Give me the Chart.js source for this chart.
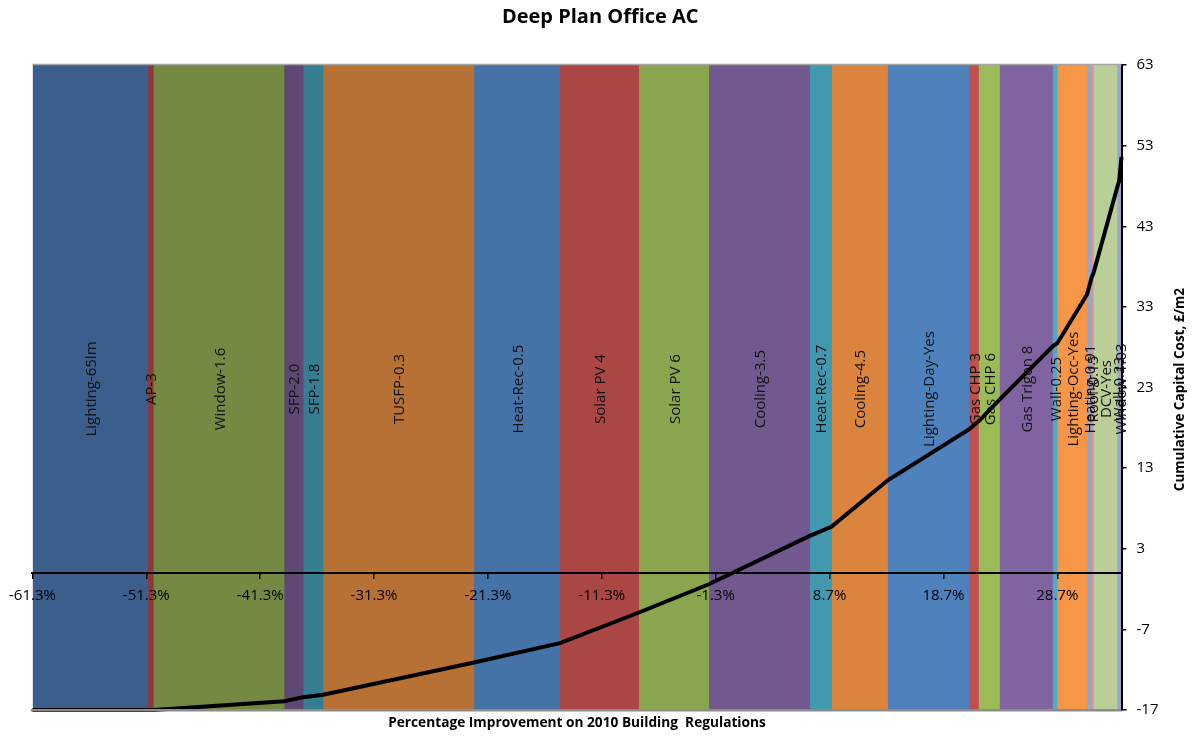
<!DOCTYPE html>
<html>
<head>
<meta charset="utf-8">
<title>Deep Plan Office AC</title>
<script src="https://cdn.jsdelivr.net/npm/chart.js@4/dist/chart.umd.min.js"></script>
<style>
  html, body { margin: 0; padding: 0; background: #fff; }
  #wrap { width: 1194px; height: 738px; position: relative; }
</style>
</head>
<body>
<div id="wrap"><canvas id="c"></canvas></div>
<script>
// Energy-saving measures, in the order they are applied
const measures = [
  'Lighting-65lm', 'AP-3', 'Window-1.6', 'SFP-2.0', 'SFP-1.8', 'TUSFP-0.3',
  'Heat-Rec-0.5', 'Solar PV 4', 'Solar PV 6', 'Cooling-3.5', 'Heat-Rec-0.7',
  'Cooling-4.5', 'Lighting-Day-Yes', 'Gas CHP 3', 'Gas CHP 6', 'Gas Trigen 8',
  'Wall-0.25', 'Lighting-Occ-Yes', 'Heating-0.91', 'Roof-0.15', 'DCV-Yes',
  'Wall-0.23', 'Window-1.03'
];

// Improvement each measure adds, percentage points
const improvement = [
  10.15, 0.47, 11.49, 1.67, 1.75, 13.25,
  7.55, 6.93, 6.14, 8.86, 1.93,
  4.92, 7.13, 0.85, 1.84, 4.66,
  0.41, 2.60, 0.43, 0.15, 2.08,
  0.18, 0.20
];

// Cumulative capital cost once each measure is added, £/m2
const cumulativeCost = [
  -17.0, -17.0, -15.9, -15.4, -15.1, -11.1,
  -8.7, -4.9, -1.4, 4.6, 5.75,
  11.5, 17.8, 18.8, 21.5, 28.1,
  28.5, 34.5, 36.7, 37.2, 47.8,
  48.7, 51.6
];

// Starting point: baseline improvement and cost
const startImprovement = -61.3;
const startCost = -17.0;

// Axis ticks
const xTicks = [-61.3, -51.3, -41.3, -31.3, -21.3, -11.3, -1.3, 8.7, 18.7, 28.7];
const yTicks = [-17, -7, 3, 13, 23, 33, 43, 53, 63];

// Band fill colours, one per measure
const bandColours = [
  '#3b5e8c', '#8c3a38', '#748a42', '#5f4876', '#367f93', '#b87134',
  '#4573a7', '#aa4644', '#89a64e', '#71588f', '#4298af',
  '#db843d', '#4f81bd', '#c0504d', '#9bbb59', '#8064a2',
  '#4bacc6', '#f79646', '#95a7ce', '#d99694', '#bacf98',
  '#94aad2', '#ab9ec4'
];

const FONT = "'Open Sans', 'DejaVu Sans', sans-serif";
const yMin = yTicks[0];
const yMax = yTicks[yTicks.length - 1];

// Band edges along the improvement axis
const edges = [startImprovement];
improvement.forEach(w => edges.push(edges[edges.length - 1] + w));
const last = edges.length - 1;

// Each band is filled from its own start edge; it runs on under the next band
// (which is drawn on top) so that neighbouring fills meet without a seam.
const bandDatasets = measures.map((m, i) => ({
  type: 'line',
  label: m,
  data: [{ x: edges[i], y: yMax }, { x: edges[Math.min(i + 2, last)], y: yMax }],
  fill: 'start',
  backgroundColor: bandColours[i],
  borderColor: 'rgba(0,0,0,0)',
  borderWidth: 0,
  pointRadius: 0,
  order: 1000 - i
}));

const costLine = {
  type: 'line',
  label: 'Cumulative capital cost',
  data: [{ x: startImprovement, y: startCost }].concat(
    cumulativeCost.map((c, i) => ({ x: edges[i + 1], y: c }))
  ),
  borderColor: '#000',
  borderWidth: 4,
  pointRadius: 0,
  fill: false,
  tension: 0,
  clip: false,
  order: 0
};

// Vertical measure names in the middle of each band
const bandLabels = {
  id: 'bandLabels',
  afterDatasetsDraw(chart) {
    const { ctx, scales: { x, y } } = chart;
    const cy = y.getPixelForValue((yMin + yMax) / 2) + 1.5;
    ctx.save();
    ctx.fillStyle = '#111';
    ctx.font = '15px ' + FONT;
    ctx.textAlign = 'center';
    ctx.textBaseline = 'middle';
    measures.forEach((m, i) => {
      const cx = x.getPixelForValue((edges[i] + edges[i + 1]) / 2) + 1.5;
      ctx.save();
      ctx.translate(cx, cy);
      ctx.rotate(-Math.PI / 2);
      ctx.fillText(m, 0, 0);
      ctx.restore();
    });
    ctx.restore();
  }
};

// Plot frame top edge and the right-hand axis title (reads bottom to top)
const frameAndTitle = {
  id: 'frameAndTitle',
  afterDraw(chart) {
    const { ctx, chartArea: a, scales: { y } } = chart;
    ctx.save();
    ctx.strokeStyle = '#a6a6a6';
    ctx.lineWidth = 1.5;
    ctx.beginPath();
    ctx.moveTo(a.left, a.top - 0.5);
    ctx.lineTo(a.right, a.top - 0.5);
    ctx.stroke();

    ctx.translate(y.right + 11.5, (a.top + a.bottom) / 2 + 2);
    ctx.rotate(-Math.PI / 2);
    ctx.fillStyle = '#000';
    ctx.font = 'bold 13.5px ' + FONT;
    ctx.textAlign = 'center';
    ctx.textBaseline = 'middle';
    ctx.fillText('Cumulative Capital Cost, \u00a3/m2', 0, 0);
    ctx.restore();
  }
};

new Chart(document.getElementById('c'), {
  type: 'line',
  data: { datasets: [costLine].concat(bandDatasets) },
  options: {
    responsive: true,
    maintainAspectRatio: false,
    animation: false,
    layout: { padding: { left: 32, right: 25.5, top: 0, bottom: 7 } },
    plugins: {
      legend: { display: false },
      tooltip: { enabled: false },
      title: {
        display: true,
        text: 'Deep Plan Office AC',
        color: '#000',
        font: { family: FONT, size: 20, weight: 'bold' },
        padding: { top: 5, bottom: 36 }
      }
    },
    scales: {
      x: {
        type: 'linear',
        position: { y: 0 },
        min: edges[0],
        max: edges[last],
        afterBuildTicks: s => { s.ticks = xTicks.map(v => ({ value: v })); },
        ticks: {
          callback: v => v.toFixed(1) + '%',
          color: '#000',
          font: { family: FONT, size: 15 },
          padding: 9,
          maxRotation: 0,
          autoSkip: false,
          z: 1
        },
        grid: { drawOnChartArea: false, drawTicks: true, tickLength: 5, color: '#000', lineWidth: 1.5, z: 1 },
        border: { display: true, color: '#000', width: 2, z: 1 }
      },
      x2: {
        type: 'linear',
        axis: 'x',
        position: 'bottom',
        min: edges[0],
        max: edges[last],
        ticks: { display: false },
        grid: { display: false, drawTicks: false },
        border: { display: true, color: '#8c8c8c', width: 2.5, z: 1 },
        title: {
          display: true,
          text: 'Percentage Improvement on 2010 Building  Regulations',
          color: '#000',
          font: { family: FONT, size: 13.7, weight: 'bold' },
          padding: { top: 4.5, bottom: 0 }
        }
      },
      y: {
        type: 'linear',
        position: 'right',
        min: yMin,
        max: yMax,
        afterBuildTicks: s => { s.ticks = yTicks.map(v => ({ value: v })); },
        ticks: {
          color: '#000',
          font: { family: FONT, size: 15 },
          padding: 10,
          z: 1
        },
        grid: { drawOnChartArea: false, drawTicks: true, tickLength: 5, color: '#000', lineWidth: 1.5, z: 1 },
        border: { display: true, color: '#000', width: 2, z: 1 }
      }
    }
  },
  plugins: [bandLabels, frameAndTitle]
});
</script>
</body>
</html>
